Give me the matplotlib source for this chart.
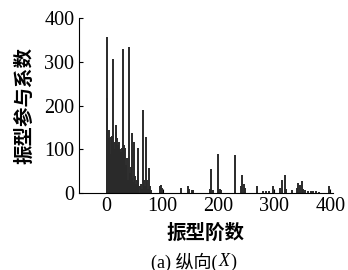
import matplotlib.pyplot as plt

plt.rcParams['font.family'] = ['Liberation Serif', 'Noto Sans CJK SC']

# mode number and participation factor
modes = [0, 1, 1, 2, 3, 4, 5, 6, 7, 8, 9, 10, 12, 13, 14, 15, 16, 17, 18, 19,
         20, 21, 22, 23, 24, 25, 26, 27, 28, 29, 30, 31, 33, 34, 35, 36, 38,
         40, 41, 42, 43, 45, 46, 47, 49, 50, 52, 54, 56, 57, 59, 61, 63, 65,
         66, 68, 71, 72, 74, 76, 77, 79,
         95, 97, 99, 133, 145, 148, 152, 155, 185, 187, 190, 200, 203, 205,
         230, 240, 243, 245, 247, 269, 280, 285, 290, 297, 310, 314, 319, 321,
         332, 340, 343, 346, 349, 352, 355, 360, 365, 370, 375, 380, 398]
factor = [358, 218, 70, 122, 80, 125, 145, 90, 128, 60, 130, 75, 307, 100,
          118, 85, 156, 140, 95, 125, 110, 70, 118, 90, 100, 60, 95, 80, 103,
          330, 75, 110, 103, 65, 40, 80, 30, 335, 45, 20, 60, 137, 35, 25, 118,
          40, 20, 30, 103, 50, 15, 20, 10, 191, 30, 15, 128, 30, 10, 57, 15, 8,
          15, 18, 12, 11, 15, 10, 8, 7, 10, 54, 8, 89, 10, 6,
          87, 15, 41, 20, 12, 16, 5, 4, 5, 15, 12, 31, 41, 10,
          8, 12, 22, 18, 28, 10, 6, 5, 5, 4, 5, 3, 15]

yticks = [0, 100, 200, 300, 400]
xticks = [0, 100, 200, 300, 400]

fig = plt.figure(figsize=(3.48, 2.70), dpi=100)
ax = fig.add_axes([0.226, 0.285, 0.731, 0.647])

ax.vlines(modes, 0, factor, color='#2a2a2a', linewidth=1.4)

ax.set_xlim(-50, 405)
ax.set_ylim(0, 400)
ax.set_xticks(xticks)
ax.set_yticks(yticks)
ax.spines['top'].set_visible(False)
ax.spines['right'].set_visible(False)
ax.tick_params(direction='in', length=3, labelsize=14.5, pad=3)

ax.set_ylabel('振型参与系数', family='Noto Sans CJK SC', fontsize=14,
              fontweight='bold', labelpad=7)
ax.set_xlabel('振型阶数', family='Noto Sans CJK SC', fontsize=14,
              fontweight='bold', labelpad=5)

# caption, with the X in italics
t1 = fig.text(0.435, 0.03, '(a) 纵向(', ha='left', va='center', fontsize=13,
              family=['Liberation Serif', 'Noto Sans CJK SC'])
t2 = fig.text(0, 0, 'X', fontsize=13, fontstyle='italic', va='center',
              family='Liberation Serif', transform=t1.get_transform())
fig.canvas.draw()
bb = t1.get_window_extent()
t2.set_position(fig.transFigure.inverted().transform((bb.x1 + 1, bb.y0 + bb.height / 2)))
bb2 = t2.get_window_extent()
fig.text(*fig.transFigure.inverted().transform((bb2.x1 + 1, bb.y0 + bb.height / 2)),
         ')', fontsize=13, va='center', family='Liberation Serif')

fig.savefig('out.png', dpi=100)
